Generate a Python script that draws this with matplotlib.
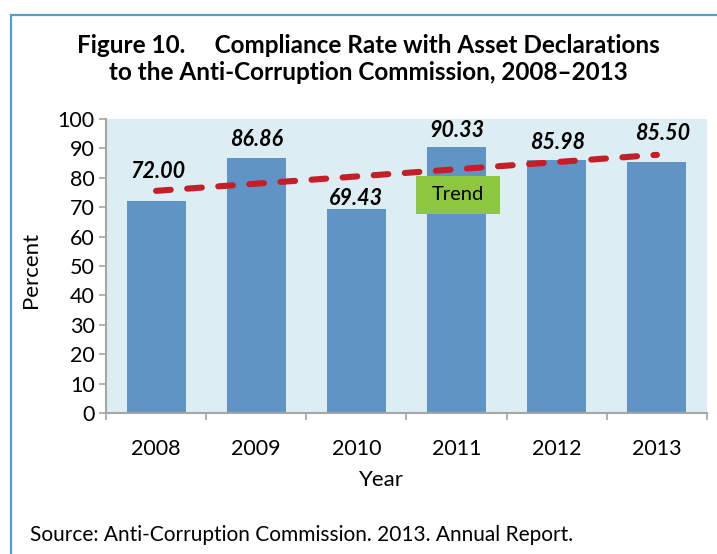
import numpy as np
import matplotlib
matplotlib.use("Agg")
import matplotlib.pyplot as plt
from matplotlib.patches import Rectangle

# ---- data ----
years = ["2008", "2009", "2010", "2011", "2012", "2013"]
rates = [72.00, 86.86, 69.43, 90.33, 85.98, 85.50]
value_labels = ["72.00", "86.86", "69.43", "90.33", "85.98", "85.50"]
yticks = [0, 10, 20, 30, 40, 50, 60, 70, 80, 90, 100]

title = "Figure 10.     Compliance Rate with Asset Declarations\nto the Anti-Corruption Commission, 2008\u20132013"
source = "Source: Anti-Corruption Commission. 2013. Annual Report."

# ---- layout / style ----
label_dy = [10.0, 6.0, 3.6, 5.7, 6.0, 9.5]
label_dx = [0.02, 0.0, 0.0, 0.0, 0.01, 0.06]

plt.rcParams['font.family'] = ['Lato', 'DejaVu Sans']

W, H = 717, 554
fig = plt.figure(figsize=(W / 100, H / 100), dpi=100)
fig.patch.set_facecolor("white")

def fx(px):
    return px / W

def fy(py):
    return 1 - py / H

# outer border (open at right/bottom)
border = Rectangle((fx(11), -0.2), 1.5, fy(15) + 0.2, transform=fig.transFigure,
                   fill=False, edgecolor="#4BA3CC", linewidth=1.6, clip_on=False)
fig.patches.append(border)

ax = fig.add_axes([fx(106), fy(413), fx(707) - fx(106), fy(119) - fy(413)])
ax.set_facecolor("#DCEEF3")

x = np.arange(len(years))
ax.bar(x, rates, width=0.59, color="#6094C4", zorder=2)

# trend line (least squares)
coef = np.polyfit(x, rates, 1)
trend = np.polyval(coef, x)
ax.plot(x, trend, color="#C41E28", linewidth=4.4, linestyle=(0, (2.4, 2.7)),
        dash_capstyle="round", solid_capstyle="round", zorder=4)

for i, (v, lab) in enumerate(zip(rates, value_labels)):
    ax.text(i + label_dx[i], v + label_dy[i], lab, ha="center", va="center",
            fontsize=15.5, fontweight="bold", fontstyle="italic", color="black",
            zorder=5)

# Trend box
ax.add_patch(Rectangle((2.59, 67.7), 0.84, 12.9, facecolor="#8DC63F",
                       edgecolor="none", zorder=5))
ax.text(3.01, 74.2, "Trend", ha="center", va="center", fontsize=14.5,
        color="black", zorder=6)

ax.set_xlim(-0.5, len(years) - 0.5)
ax.set_ylim(0, 100)
ax.set_yticks(yticks)
ax.set_yticklabels([str(t) for t in yticks], fontsize=15.5)
ax.set_xticks(x)
ax.set_xticklabels(years, fontsize=15.5)
ax.set_xticks(np.arange(-0.5, len(years), 1.0), minor=True)
ax.tick_params(axis="x", which="major", length=0, pad=19)
ax.tick_params(axis="x", which="minor", length=5, width=1.2, color="#A6A6A6")
ax.tick_params(axis="y", length=5, width=1.2, color="#A6A6A6", pad=3)

for s in ["top", "right"]:
    ax.spines[s].set_visible(False)
for s in ["left", "bottom"]:
    ax.spines[s].set_color("#A6A6A6")
    ax.spines[s].set_linewidth(1.5)

fig.text(fx(31), fy(270), "Percent", ha="center", va="center", rotation=90,
         fontsize=16)
fig.text(fx(381), fy(480), "Year", ha="center", va="center", fontsize=16)

fig.text(fx(368), fy(59), title, ha="center", va="center", fontsize=17.5,
         fontweight="bold", linespacing=1.25)
fig.text(fx(30), fy(535), source, ha="left", va="center", fontsize=15)

fig.savefig("out.png", dpi=100)
